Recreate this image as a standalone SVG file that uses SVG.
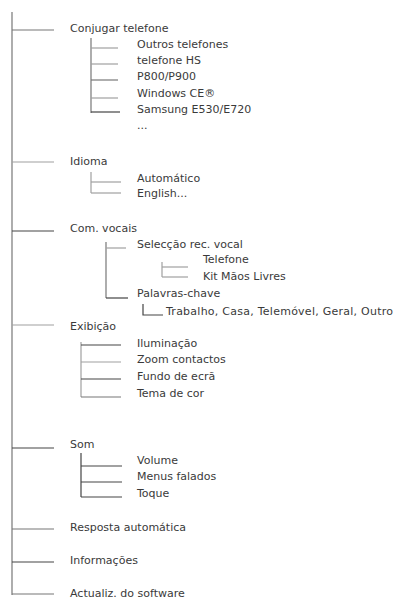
<svg xmlns="http://www.w3.org/2000/svg" width="400" height="604" viewBox="0 0 400 604">
<style>
  text { font-family: "DejaVu Sans", "Liberation Sans", sans-serif; font-size: 11px; fill: #3a3a3a; }
  .d { stroke: #444; stroke-width: 1.2; fill: none; }
  .m { stroke: #777; stroke-width: 1.2; fill: none; }
  .l { stroke: #a0a0a0; stroke-width: 1.2; fill: none; }
</style>
<rect width="400" height="604" fill="#fff"/>
<g id="connectors">
  <line class="m" x1="12" y1="12" x2="12" y2="595"/>
  <line class="m" x1="12" y1="30" x2="54" y2="30"/>
  <line class="l" x1="12" y1="162" x2="54" y2="162"/>
  <line class="d" x1="12" y1="231" x2="54" y2="231"/>
  <line class="l" x1="12" y1="325" x2="54" y2="325"/>
  <line class="d" x1="12" y1="448" x2="54" y2="448"/>
  <line class="m" x1="12" y1="529" x2="54" y2="529"/>
  <line class="d" x1="12" y1="562" x2="54" y2="562"/>
  <line class="m" x1="12" y1="594" x2="54" y2="594"/>
  <line class="m" x1="91" y1="38" x2="91" y2="113"/>
  <line class="l" x1="91" y1="48" x2="118" y2="48"/>
  <line class="l" x1="91" y1="64" x2="118" y2="64"/>
  <line class="m" x1="91" y1="80" x2="118" y2="80"/>
  <line class="l" x1="91" y1="98" x2="118" y2="98"/>
  <line class="d" x1="91" y1="112" x2="120" y2="112"/>
  <line class="l" x1="91" y1="172" x2="91" y2="193"/>
  <line class="l" x1="91" y1="182" x2="121" y2="182"/>
  <line class="l" x1="91" y1="193" x2="121" y2="193"/>
  <line class="m" x1="106" y1="242" x2="106" y2="298"/>
  <line class="l" x1="106" y1="248" x2="126" y2="248"/>
  <line class="d" x1="106" y1="298" x2="128" y2="298"/>
  <line class="l" x1="162" y1="262" x2="162" y2="277"/>
  <line class="l" x1="162" y1="267" x2="188" y2="267"/>
  <line class="l" x1="162" y1="277" x2="188" y2="277"/>
  <path class="d" d="M143,304 V315 H163"/>
  <line class="l" x1="81" y1="342" x2="81" y2="397"/>
  <line class="d" x1="81" y1="345" x2="121" y2="345"/>
  <line class="l" x1="81" y1="362" x2="121" y2="362"/>
  <line class="d" x1="81" y1="379" x2="121" y2="379"/>
  <line class="m" x1="81" y1="397" x2="121" y2="397"/>
  <line class="d" x1="81" y1="453" x2="81" y2="497"/>
  <line class="d" x1="81" y1="466" x2="122" y2="466"/>
  <line class="d" x1="81" y1="482" x2="122" y2="482"/>
  <line class="d" x1="81" y1="497" x2="122" y2="497"/>
</g>
<g id="node-conjugar">
  <text x="70" y="32">Conjugar telefone</text>
  <text x="137" y="48">Outros telefones</text>
  <text x="137" y="64">telefone HS</text>
  <text x="137" y="80">P800/P900</text>
  <text x="137" y="97">Windows CE®</text>
  <text x="137" y="113">Samsung E530/E720</text>
  <text x="137" y="129" fill="#999">...</text>
</g>
<g id="node-idioma">
  <text x="70" y="165">Idioma</text>
  <text x="137" y="182">Automático</text>
  <text x="137" y="197">English...</text>
</g>
<g id="node-comvocais">
  <text x="70" y="232">Com. vocais</text>
  <text x="137" y="248">Selecção rec. vocal</text>
  <text x="203" y="263">Telefone</text>
  <text x="203" y="280">Kit Mãos Livres</text>
  <text x="137" y="297">Palavras-chave</text>
  <text x="166" y="315" textLength="227" lengthAdjust="spacing">Trabalho, Casa, Telemóvel, Geral, Outro</text>
</g>
<g id="node-exibicao">
  <text x="70" y="330">Exibição</text>
  <text x="137" y="347">Iluminação</text>
  <text x="137" y="363">Zoom contactos</text>
  <text x="137" y="380">Fundo de ecrã</text>
  <text x="137" y="397">Tema de cor</text>
</g>
<g id="node-som">
  <text x="70" y="448">Som</text>
  <text x="137" y="464">Volume</text>
  <text x="137" y="480">Menus falados</text>
  <text x="137" y="497">Toque</text>
</g>
<g id="node-resposta"><text x="70" y="531">Resposta automática</text></g>
<g id="node-informacoes"><text x="70" y="564">Informações</text></g>
<g id="node-actualiz"><text x="70" y="597">Actualiz. do software</text></g>
</svg>
